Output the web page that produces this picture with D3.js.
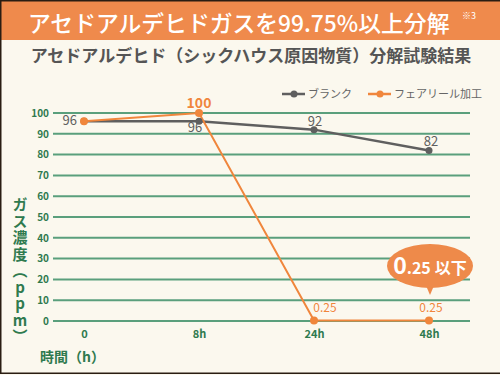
<!DOCTYPE html>
<html><head><meta charset="utf-8">
<script src="https://cdn.jsdelivr.net/npm/d3@7"></script>
<style>
html,body{margin:0;padding:0;background:#fbf8ee;}
svg{display:block;font-family:"Noto Sans CJK JP","Noto Sans",sans-serif;}
</style></head>
<body>
<svg id="c" width="500" height="375"></svg>
<script>
const categories = ["0", "8h", "24h", "48h"];
const blankValues = [96, 96, 92, 82];
const fairValues = [96, 100, 0.25, 0.25];
const blankLabels = ["96", "96", "92", "82"];
const fairLabels = ["", "100", "0.25", "0.25"];
const yTicks = [0, 10, 20, 30, 40, 50, 60, 70, 80, 90, 100];
const seriesNames = ["ブランク", "フェアリール加工"];
const title = "アセドアルデヒドガスを99.75%以上分解";
const subtitle = "アセドアルデヒド（シックハウス原因物質）分解試験結果";

const GREEN = "#2f7a4e", GRID = "#5a9f7c", GRAY = "#5f5f5f", ORANGE = "#f0863c";
const svg = d3.select("#c");

svg.append("rect").attr("width",500).attr("height",375).attr("fill","#fbf8ee");
// banner
svg.append("rect").attr("x",0).attr("y",0).attr("width",500).attr("height",40).attr("fill","#ef8a4c");
svg.append("text").attr("x",28).attr("y",32).attr("fill","#fff").attr("font-size",22.8).attr("font-weight",500).text(title);
svg.append("text").attr("x",462).attr("y",19).attr("fill","#fff").attr("font-size",9).text("※3");
svg.append("text").attr("x",251).attr("y",62).attr("text-anchor","middle").attr("fill","#555").attr("font-size",17).attr("font-weight",700).text(subtitle);

const x = d3.scalePoint().domain(categories).range([84, 429]);
const y = d3.scaleLinear().domain([0, 100]).range([321, 113]);

// grid
const grid = svg.append("g");
grid.selectAll("line").data(yTicks).join("line")
  .attr("x1",53).attr("x2",470).attr("y1",d=>y(d)).attr("y2",d=>y(d))
  .attr("stroke",GRID).attr("stroke-width",2);
// y axis
const ya = svg.append("g").attr("transform","translate(49,0)")
  .call(d3.axisLeft(y).tickValues(yTicks).tickSize(0).tickPadding(0));
ya.select(".domain").remove();
ya.selectAll("text").attr("fill",GREEN).attr("font-size",10).attr("font-weight",700).attr("font-family","'Noto Sans CJK JP',sans-serif");
// x axis
const xa = svg.append("g").attr("transform","translate(0,330)")
  .call(d3.axisBottom(x).tickSize(0).tickPadding(0));
xa.select(".domain").remove();
xa.selectAll("text").attr("fill",GREEN).attr("font-size",11).attr("font-weight",700).attr("font-family","'Noto Sans CJK JP',sans-serif");

svg.append("text").attr("x",40).attr("y",362).attr("fill",GREEN).attr("font-size",14).attr("font-weight",700).text("時間（h）");
svg.append("text").attr("x",20).attr("y",197)
  .style("writing-mode","vertical-rl").style("text-orientation","upright")
  .attr("fill",GREEN).attr("font-size",15).attr("font-weight",700).attr("letter-spacing",1.5)
  .text("ガス濃度（ppm）");

const line = d3.line().x((d,i)=>x(categories[i])).y(d=>y(d));
svg.append("path").datum(blankValues).attr("d",line).attr("fill","none").attr("stroke",GRAY).attr("stroke-width",2.5);
svg.append("path").datum(fairValues).attr("d",line).attr("fill","none").attr("stroke",ORANGE).attr("stroke-width",2);
svg.selectAll(".pb").data(blankValues).join("circle").attr("cx",(d,i)=>x(categories[i])).attr("cy",d=>y(d)).attr("r",3.5).attr("fill",GRAY);
svg.selectAll(".pf").data(fairValues).join("circle").attr("cx",(d,i)=>x(categories[i])).attr("cy",d=>y(d)).attr("r",4).attr("fill",ORANGE);

// labels
const bOff = [[-7,4,"end"],[-4,11,"middle"],[1,-4,"middle"],[2,-4,"middle"]];
svg.selectAll(".lb").data(blankValues).join("text")
  .attr("x",(d,i)=>x(categories[i])+bOff[i][0]).attr("y",(d,i)=>y(d)+bOff[i][1])
  .attr("text-anchor",(d,i)=>bOff[i][2]).attr("fill",GRAY).attr("font-size",13)
  .text((d,i)=>blankLabels[i]);
const fOff = [[0,0],[0,-5,14,700],[11,-8,12,400],[2,-8,12,400]];
svg.selectAll(".lf").data(fairValues).join("text")
  .attr("x",(d,i)=>x(categories[i])+fOff[i][0]).attr("y",(d,i)=>y(d)+fOff[i][1])
  .attr("text-anchor","middle").attr("fill",ORANGE)
  .attr("font-size",(d,i)=>fOff[i][2]||12).attr("font-weight",(d,i)=>fOff[i][3]||400)
  .attr("stroke","#fff").attr("stroke-width",0.4).attr("paint-order","stroke")
  .text((d,i)=>fairLabels[i]);

// callout
const cx = x(categories[3]) + 1, cy = 266;
svg.append("path").attr("d",`M${cx-6},${cy+15} L${cx},${cy+29} L${cx+6},${cy+15} Z`).attr("fill","#ee8a4a");
svg.append("ellipse").attr("cx",cx).attr("cy",cy).attr("rx",43).attr("ry",22).attr("fill","#ee8a4a");
const ct = svg.append("text").attr("x",cx).attr("y",cy+8).attr("text-anchor","middle").attr("fill","#fff").attr("font-weight",700);
ct.append("tspan").attr("font-size",23).text("0");
ct.append("tspan").attr("font-size",16).text(".25");
ct.append("tspan").attr("font-size",16).attr("dx",4).text("以下");

// legend
const legX = [282, 368];
const legColors = [GRAY, ORANGE];
const lg = svg.selectAll(".lg").data(seriesNames).join("g").attr("transform",(d,i)=>`translate(${legX[i]},94)`);
lg.append("line").attr("x1",0).attr("x2",23).attr("stroke",(d,i)=>legColors[i]).attr("stroke-width",2.5);
lg.append("circle").attr("cx",12).attr("r",3.5).attr("fill",(d,i)=>legColors[i]);
lg.append("text").attr("x",26).attr("y",4).attr("fill","#666").attr("font-size",11).text(d=>d);

// frame
svg.append("rect").attr("x",0.75).attr("y",0.75).attr("width",510).attr("height",372.5).attr("fill","none").attr("stroke","#2a1d12").attr("stroke-width",1.5);
</script>
</body></html>
